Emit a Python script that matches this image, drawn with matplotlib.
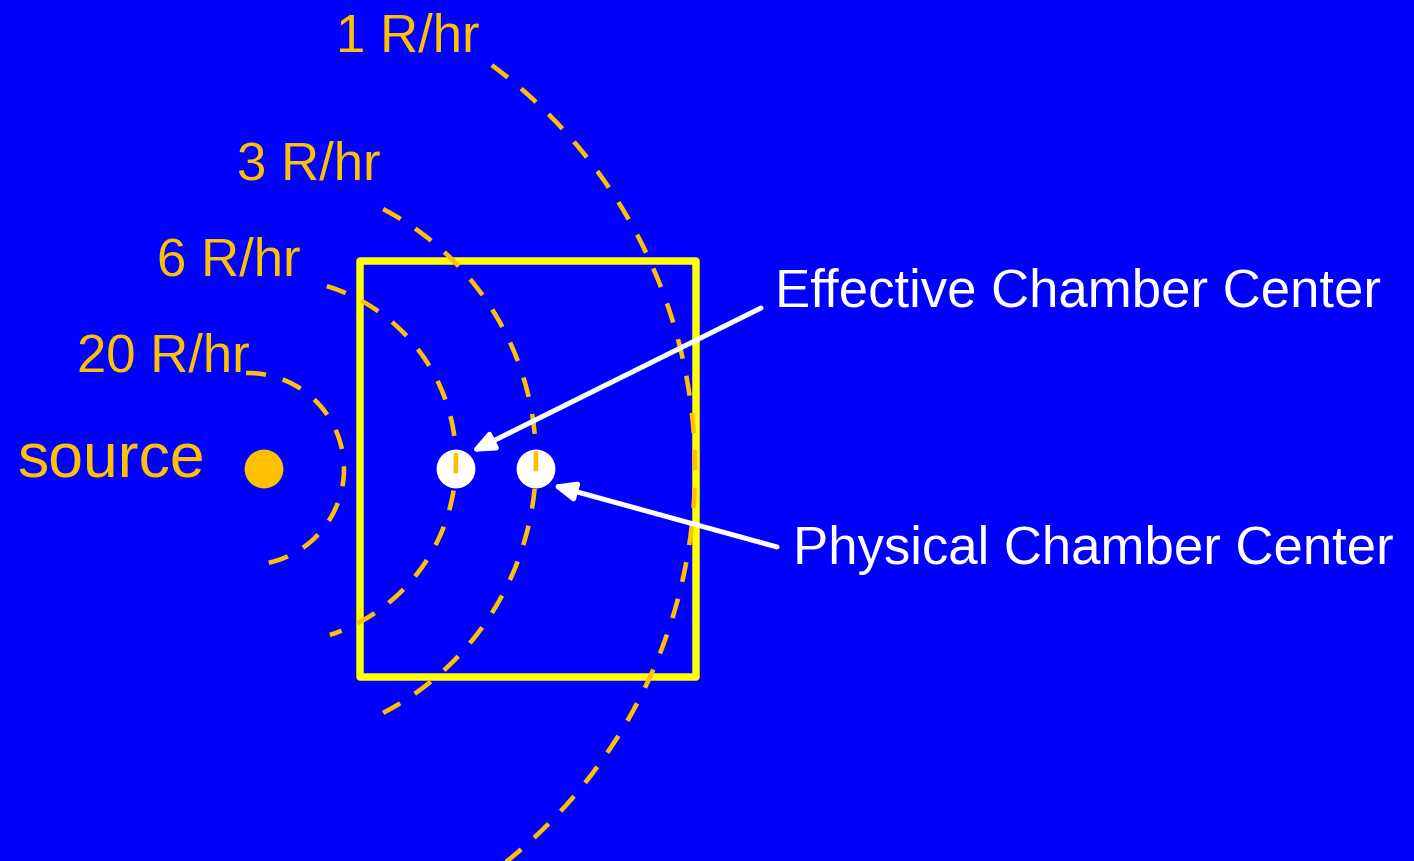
import numpy as np
import matplotlib
matplotlib.use("Agg")
import matplotlib.pyplot as plt
from matplotlib.patches import Circle, Rectangle, FancyArrowPatch

# ---- content ----
dose_rates = [1, 3, 6, 20]                      # R/hr isodose lines
dose_labels = [f"{d} R/hr" for d in dose_rates]
source_label = "source"
effective_label = "Effective Chamber Center"
physical_label = "Physical Chamber Center"

# ---- layout (pixel coordinates of the 1414x862 canvas) ----
W, H = 1414, 862
arc_cx = [192, 252, 273, 248]
arc_cy = [470, 462, 462, 470]
arc_r = [503, 284, 183, 96]
arc_t1 = [53.4, 62.5, 72.9, 91.2]
arc_t2 = [-51.5, -62.5, -71.9, -86.4]
label_xy = [(336, 52), (237, 180), (157, 276), (77, 372)]

BLUE = "#0000FF"
ORANGE = "#FFC000"
YELLOW = "#FFFF00"
WHITE = "#FFFFFF"

plt.rcParams["lines.scale_dashes"] = False
plt.rcParams["font.family"] = ["Liberation Sans", "DejaVu Sans"]

fig = plt.figure(figsize=(W / 100, H / 100), dpi=100, facecolor=BLUE)
ax = fig.add_axes([0, 0, 1, 1], facecolor=BLUE)
ax.set_xlim(0, W)
ax.set_ylim(H, 0)
ax.axis("off")

# chamber box
ax.add_patch(Rectangle((359.5, 262), 336, 416, fill=False, ec=YELLOW, lw=5.4,
                       joinstyle="round", zorder=2))

# source and chamber centres
ax.add_patch(Circle((264, 470), 18.7, color=ORANGE, zorder=3))
ax.add_patch(Circle((456, 470), 18.7, color=WHITE, zorder=3))
ax.add_patch(Circle((536, 470), 18.7, color=WHITE, zorder=3))

# isodose arcs
for cx, cy, r, t1, t2 in zip(arc_cx, arc_cy, arc_r, arc_t1, arc_t2):
    t = np.radians(np.linspace(t1, t2, 600))
    ax.plot(cx + r * np.cos(t), cy - r * np.sin(t), color=ORANGE, lw=3.3,
            linestyle=(0, (14.5, 12.5)), solid_capstyle="butt", zorder=4)

# labels
for lab, (x, y) in zip(dose_labels, label_xy):
    ax.text(x, y, lab, color=ORANGE, fontsize=38, ha="left", va="baseline", zorder=5)
ax.text(17, 478, source_label, color=ORANGE, fontsize=45, ha="left", va="baseline", zorder=5)
ax.text(775, 307, effective_label, color=WHITE, fontsize=38, ha="left", va="baseline", zorder=5)
ax.text(793, 564, physical_label, color=WHITE, fontsize=38, ha="left", va="baseline", zorder=5)

# arrows
for start, tip in [((761, 309), (471, 453)), ((777, 548), (552, 486))]:
    ax.add_patch(FancyArrowPatch(start, tip, arrowstyle="-|>,head_length=13,head_width=5.5",
                                 mutation_scale=1, color=WHITE, lw=3.6,
                                 shrinkA=0, shrinkB=0, zorder=6))

fig.savefig("out.png", dpi=100, facecolor=BLUE)
